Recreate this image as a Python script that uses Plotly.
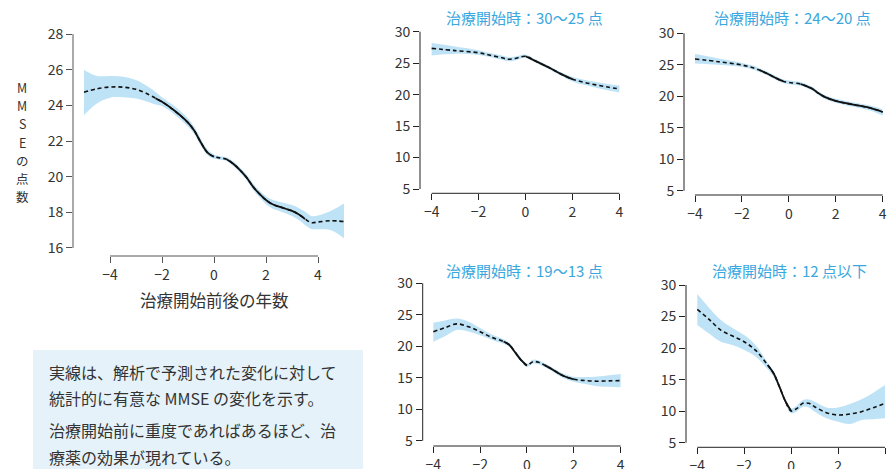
import plotly.graph_objects as go

FONT = "Noto Sans CJK JP"
W, H = 888, 469

# ---------------- data ----------------
# main panel (all patients)
main_x = [-5, -4.5, -4, -3.5, -3, -2.5, -2.25, -2, -1.5, -1, -0.75, -0.5, -0.25, 0, 0.25, 0.5,
          0.75, 1, 1.25, 1.5, 1.75, 2, 2.25, 2.5, 3, 3.25, 3.5, 3.75, 4, 4.5, 5]
main_mean = [24.73, 24.93, 25.03, 25.02, 24.9, 24.6, 24.4, 24.2, 23.68, 23.03, 22.56, 21.9, 21.35, 21.12,
             21.05, 20.97, 20.71, 20.37, 19.96, 19.44, 19.03, 18.69, 18.45, 18.32, 18.08, 17.89, 17.63,
             17.42, 17.46, 17.53, 17.48]
main_upper = [25.98, 25.65, 25.65, 25.61, 25.42, 25.01, 24.75, 24.45, 23.93, 23.27, 22.78, 22.1, 21.52,
              21.25, 21.15, 21.08, 20.85, 20.52, 20.12, 19.62, 19.22, 18.9, 18.7, 18.6, 18.41, 18.25,
              18.04, 17.79, 17.82, 18.09, 18.5]
main_lower = [23.46, 24.11, 24.43, 24.45, 24.38, 24.18, 24.05, 23.96, 23.46, 22.8, 22.36, 21.72, 21.2,
              21.0, 20.95, 20.87, 20.58, 20.22, 19.8, 19.26, 18.84, 18.46, 18.22, 18.08, 17.8, 17.58,
              17.29, 17.06, 17.05, 17.0, 16.54]
main_sig = [(-2.25, 0), (0.5, 3.5)]

# panel: MMSE 30-25 at start
p1_x = [-4, -3, -2, -1.5, -1, -0.75, -0.5, -0.25, 0, 0.5, 1, 1.5, 2, 2.5, 3, 3.5, 4]
p1_mean = [27.35, 27.0, 26.65, 26.25, 25.85, 25.62, 25.7, 25.95, 26.1, 25.2, 24.3, 23.3, 22.45,
           21.95, 21.55, 21.2, 20.9]
p1_upper = [28.2, 27.65, 27.05, 26.6, 26.2, 25.95, 26.0, 26.22, 26.35, 25.45, 24.55, 23.6, 22.8,
            22.35, 22.0, 21.7, 21.45]
p1_lower = [26.2, 26.5, 26.3, 25.95, 25.55, 25.3, 25.4, 25.68, 25.85, 24.95, 24.05, 23.05, 22.1,
            21.55, 21.1, 20.7, 20.35]
p1_sig = [(0, 2)]

# panel: MMSE 24-20 at start
p2_x = [-4, -3, -2, -1.5, -1.25, -1, -0.5, -0.25, 0, 0.5, 0.75, 1, 1.25, 1.5, 2, 2.5, 3, 3.5, 4]
p2_mean = [25.92, 25.49, 24.96, 24.5, 24.15, 23.74, 22.8, 22.4, 22.2, 21.95, 21.6, 21.2, 20.5,
           19.95, 19.25, 18.85, 18.5, 18.1, 17.5]
p2_upper = [26.7, 26.0, 25.3, 24.85, 24.45, 24.05, 23.1, 22.7, 22.5, 22.25, 21.9, 21.5, 20.8,
            20.25, 19.6, 19.2, 18.85, 18.5, 17.95]
p2_lower = [25.2, 25.0, 24.65, 24.2, 23.85, 23.45, 22.5, 22.1, 21.9, 21.65, 21.3, 20.9, 20.2,
            19.65, 18.95, 18.5, 18.15, 17.7, 16.9]
p2_sig = [(-1.25, -0.25), (0.5, 4)]

# panel: MMSE 19-13 at start
p3_x = [-4, -3.5, -3, -2.5, -2, -1.5, -1, -0.75, -0.5, -0.25, 0, 0.25, 0.5, 0.75, 1, 1.5, 2,
        2.5, 3, 3.5, 4]
p3_mean = [22.3, 22.95, 23.55, 23.1, 22.3, 21.4, 20.75, 20.2, 19.0, 17.8, 16.95, 17.55, 17.45,
           17.0, 16.5, 15.4, 14.75, 14.55, 14.45, 14.5, 14.55]
p3_upper = [23.75, 24.1, 24.4, 23.9, 22.9, 21.85, 21.1, 20.5, 19.3, 18.1, 17.2, 17.85, 17.75,
            17.3, 16.8, 15.75, 15.15, 15.1, 15.2, 15.4, 15.6]
p3_lower = [20.73, 21.6, 22.6, 22.35, 21.75, 21.0, 20.4, 19.9, 18.7, 17.5, 16.7, 17.25, 17.15,
            16.7, 16.2, 15.05, 14.35, 14.0, 13.65, 13.55, 13.5]
p3_sig = [(-1, 0), (0.75, 2)]

# panel: MMSE 12 or less at start
p4_x = [-4, -3.5, -3, -2.5, -2, -1.5, -1, -0.75, -0.5, -0.25, 0, 0.25, 0.5, 0.75, 1, 1.5, 2,
        2.5, 3, 3.5, 4]
p4_mean = [26.14, 24.56, 22.86, 21.91, 21.01, 19.59, 17.31, 16.0, 13.88, 11.61, 10.02, 10.44,
           11.24, 11.24, 10.71, 9.76, 9.39, 9.55, 9.92, 10.55, 11.24]
p4_upper = [28.57, 26.4, 24.45, 23.2, 22.07, 20.4, 17.68, 16.4, 14.2, 11.9, 10.44, 10.9, 11.75,
            11.85, 11.5, 10.6, 10.6, 11.13, 11.87, 12.93, 14.14]
p4_lower = [23.66, 22.3, 21.01, 20.5, 19.69, 18.6, 16.63, 15.5, 13.5, 11.3, 9.65, 10.0, 10.7,
            10.6, 9.95, 8.86, 8.33, 7.96, 8.6, 8.7, 8.86]
p4_sig = [(-1, 0)]

x_ticks = [-4, -2, 0, 2, 4]
main_y_ticks = [16, 18, 20, 22, 24, 26, 28]
small_y_ticks = [5, 10, 15, 20, 25, 30]

panel_titles = ["治療開始時：30～25 点", "治療開始時：24～20 点",
                "治療開始時：19～13 点", "治療開始時：12 点以下"]
main_xtitle = "治療開始前後の年数"
main_ytitle = "MMSEの点数"
note_lines = ["実線は、解析で予測された変化に対して",
              "統計的に有意な MMSE の変化を示す。",
              "治療開始前に重度であればあるほど、治",
              "療薬の効果が現れている。"]

# ---------------- styles ----------------
BAND = "#bfe3f6"
LINE = "#111111"
TITLE_C = "#3aa7de"
TEXT_C = "#333333"
BOX_C = "#e5f2f9"

fig = go.Figure()


def add_panel(n, xs, mean, upper, lower, sig, dom_px, xrange_, yrange_, yticks, axcol, tickfont_size):
    xa = "x" if n == 1 else f"x{n}"
    ya = "y" if n == 1 else f"y{n}"
    # band
    fig.add_trace(go.Scatter(x=xs, y=lower, mode="lines", line=dict(width=0, shape="spline"),
                             hoverinfo="skip", showlegend=False, xaxis=xa, yaxis=ya))
    fig.add_trace(go.Scatter(x=xs, y=upper, mode="lines", line=dict(width=0, shape="spline"),
                             fill="tonexty", fillcolor=BAND, hoverinfo="skip", showlegend=False,
                             xaxis=xa, yaxis=ya))
    # dashed full curve
    fig.add_trace(go.Scatter(x=xs, y=mean, mode="lines",
                             line=dict(color=LINE, width=1.6, dash="4px,3px", shape="spline"),
                             showlegend=False, xaxis=xa, yaxis=ya))
    # solid significant segments
    for a, b in sig:
        sx = [x for x in xs if a <= x <= b]
        sy = [y for x, y in zip(xs, mean) if a <= x <= b]
        fig.add_trace(go.Scatter(x=sx, y=sy, mode="lines",
                                 line=dict(color=LINE, width=1.8, shape="spline"),
                                 showlegend=False, xaxis=xa, yaxis=ya))
    l, r, t, b = dom_px
    key_x = "xaxis" if n == 1 else f"xaxis{n}"
    key_y = "yaxis" if n == 1 else f"yaxis{n}"
    fig.layout[key_x] = dict(domain=[l / W, r / W], range=xrange_, anchor=ya, showgrid=False,
                             zeroline=False, showline=False, ticks="outside", ticklen=6,
                             tickwidth=1, tickcolor=axcol, tickvals=x_ticks, automargin=False,
                             ticktext=[("\u2212" + str(-v)) if v < 0 else str(v) for v in x_ticks],
                             tickfont=dict(family=FONT, size=tickfont_size, color=TEXT_C),
                             fixedrange=True)
    fig.layout[key_y] = dict(domain=[1 - b / H, 1 - t / H], range=yrange_, anchor=xa, showgrid=False,
                             zeroline=False, showline=False, ticks="outside", ticklen=6,
                             tickwidth=1, tickcolor=axcol, tickvals=yticks, automargin=False,
                             tickfont=dict(family=FONT, size=tickfont_size, color=TEXT_C),
                             fixedrange=True)
    # detached axis lines from first to last tick
    fig.add_shape(type="line", xref=xa, yref=f"{ya} domain", x0=x_ticks[0], x1=x_ticks[-1],
                  y0=0, y1=0, line=dict(color=axcol, width=1))
    fig.add_shape(type="line", xref=f"{xa} domain", yref=ya, x0=0, x1=0,
                  y0=yticks[0], y1=yticks[-1], line=dict(color=axcol, width=1))


add_panel(1, main_x, main_mean, main_upper, main_lower, main_sig,
          (73, 346, 30, 256), [-5.423, 5.077], [15.551, 28.227], main_y_ticks, "#555555", 14)
add_panel(2, p1_x, p1_mean, p1_upper, p1_lower, p1_sig,
          (420, 622, 27, 193.3), [-4.497, 4.113], [4.316, 30.747], small_y_ticks, "#222222", 14)
add_panel(3, p2_x, p2_mean, p2_upper, p2_lower, p2_sig,
          (684, 887, 29, 195), [-4.469, 4.184], [4.317, 30.683], small_y_ticks, "#222222", 14)
add_panel(4, p3_x, p3_mean, p3_upper, p3_lower, p3_sig,
          (422.7, 623, 279, 446), [-4.454, 4.1], [4.158, 30.683], small_y_ticks, "#222222", 14)
add_panel(5, p4_x, p4_mean, p4_upper, p4_lower, p4_sig,
          (686, 888, 281, 447.3), [-4.482, 4.128], [4.271, 30.634], small_y_ticks, "#222222", 14)

annotations = []
# panel titles
for title, (cx, cy) in zip(panel_titles, [(524, 18), (792.5, 18), (524, 270), (789, 270)]):
    annotations.append(dict(text=title, xref="paper", yref="paper", x=cx / W, y=1 - cy / H,
                            xanchor="center", yanchor="middle", showarrow=False,
                            font=dict(family=FONT, size=15, color=TITLE_C)))
# main x title
annotations.append(dict(text=main_xtitle, xref="paper", yref="paper", x=214 / W, y=1 - 300 / H,
                        xanchor="center", yanchor="middle", showarrow=False,
                        font=dict(family=FONT, size=16.5, color=TEXT_C)))
# main y title, stacked vertically (one character per annotation)
step = 18.3
for k, ch in enumerate(main_ytitle):
    cy = 142 + (k - 3) * step
    annotations.append(dict(text=ch, xref="paper", yref="paper", x=22 / W, y=1 - cy / H,
                            xanchor="center", yanchor="middle", showarrow=False, borderpad=0,
                            font=dict(family=FONT, size=12.5, color=TEXT_C)))
# note box text
for line, cy in zip(note_lines, [372, 398, 430, 457]):
    annotations.append(dict(text=line, xref="paper", yref="paper", x=47 / W, y=1 - cy / H,
                            xanchor="left", yanchor="middle", showarrow=False,
                            font=dict(family=FONT, size=16, color=TEXT_C)))

fig.add_shape(type="rect", xref="paper", yref="paper", x0=33 / W, x1=363 / W,
              y0=-0.05, y1=1 - 350 / H, fillcolor=BOX_C, line=dict(width=0), layer="below")

fig.update_layout(width=W, height=H, margin=dict(l=0, r=0, t=0, b=0, autoexpand=False),
                  paper_bgcolor="white", plot_bgcolor="white",
                  annotations=annotations, showlegend=False,
                  font=dict(family=FONT, color=TEXT_C))

fig.write_html("out.html", config={"displayModeBar": False})
